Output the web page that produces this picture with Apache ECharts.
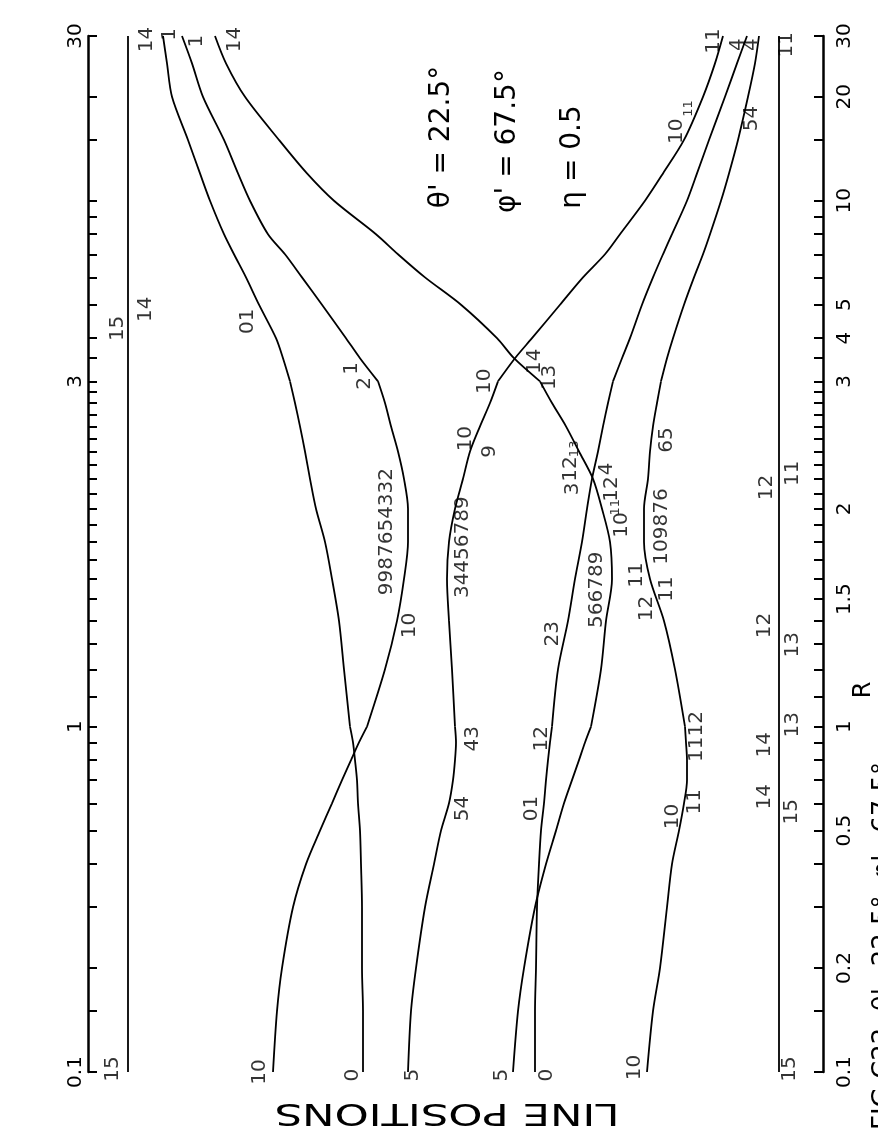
<!DOCTYPE html>
<html><head><meta charset="utf-8">
<script src="https://cdn.jsdelivr.net/npm/echarts@6/dist/echarts.min.js"></script>
<style>html,body{margin:0;padding:0;background:#fff}#c{width:878px;height:1135px}</style>
</head><body><div id="c"></div>
<script>
// R sample values (the non-uniform R axis)
const R_SAMPLES = [0.1,0.15,0.2,0.3,0.4,0.5,0.6,0.7,0.8,0.9,1,1.2,1.4,1.6,1.8,2,2.2,2.4,2.6,2.8,3,3.5,4,5,6,7,8,10,12,15,20,25,30];
// line positions (arbitrary units) of each curve at R_SAMPLES
const POS_C  = [185,189,194,205,218,232,244,254,263,271,279,297,309,316,320,320,316,310,303,297,290,272,258,234,214,197,180,162,150,136,115,104,94];
const POS_T1 = [275,275,274,274,273,272,270,269,267,265,262,256,251,244,237,228,222,217,212,207,202,195,188,171,158,146,136,122,112,100,84,79,75];
const POS_D  = [425,430,436,447,458,468,476,484,491,497,503,513,518,524,522,514,505,491,478,464,452,426,409,373,337,310,288,246,219,191,157,138,127];
const POS_E  = [320,323,328,337,346,353,361,365,367,368,367,364,361,359,361,367,375,382,392,402,410,427,444,472,495,517,532,557,575,596,615,627,635];
const POS_F  = [447,447,448,449,451,453,456,458,460,462,464,470,480,487,494,499,504,510,515,520,525,534,542,554,565,575,584,599,609,621,637,649,659];
const POS_G  = [559,565,572,579,584,591,596,599,599,598,597,587,576,562,556,556,560,562,565,569,573,579,585,596,606,615,622,633,641,650,660,667,671];
// straight lines 15/14 and 15/11
const R_ENDS = [0.1, 30];
const POS_A = [40, 40];
const POS_B = [691, 691];
// scale break points of the R axis
const R_BREAKS = [1, 3];

// axis ticks and labels
const R_TICKS = [0.1,0.15,0.2,0.3,0.4,0.5,0.6,0.7,0.8,0.9,1,1.1,1.2,1.3,1.4,1.5,1.6,1.7,1.8,1.9,2,2.1,2.2,2.3,2.4,2.5,2.6,2.7,2.8,2.9,3,3.5,4,5,6,7,8,9,10,15,20,30];
const LEFT_LABELS = [0.1, 1, 3, 30];
const RIGHT_LABELS = [0.1, 0.2, 0.5, 1, 1.5, 2, 3, 4, 5, 10, 20, 30];

// curve annotations: [text, R, position]
const LABELS = [
 ["15",0.102,25],["14",29.3,59],["15",4.27,30],["14",4.85,58],
 ["1",30.3,82],["1",29.0,109],["14",29.3,147],["01",4.48,160],
 ["1",3.27,264],["2",2.98,277],["9987654332",1.86,299],["10",1.38,322],
 ["10",3.0,397],["10",2.50,378],["9",2.40,402],["34456789",1.77,375],["43",0.923,385],["54",0.579,375],
 ["14",3.43,447],["13",3.08,462],["3",2.13,485],["12",2.27,483],["4",2.27,519],["12",2.13,524],["10",1.90,534],
 ["566789",1.546,509],["23",1.344,465],["12",0.923,454],["01",0.579,444],
 ["65",2.49,579],["109876",1.89,574],["11",1.62,549],["11",1.55,579],["12",1.456,559],
 ["1112",0.936,609],["11",0.606,607],["10",0.549,585],
 ["10",15.9,589],["54",17.3,664],["11",29.0,626],["4",28.3,650],["4",28.3,664],["11",28.3,699],
 ["11",2.24,705],["12",2.14,679],["12",1.38,677],["13",1.298,705],["13",1.006,705],["14",0.887,677],["14",0.627,677],["15",0.567,704],["15",0.102,702],
 ["10",0.1,172],["0",0.098,265],["5",0.098,325],["5",0.098,414],["0",0.098,459],["10",0.103,547]
];
const SMALL_LABELS = [["13",2.42,487],["11",2.01,528],["11",18.5,601]];

// piecewise-logarithmic R scale: one unit per decade below 1 and above 3, one unit for 1..3
const L3 = Math.log10(3);
function tr(R){ const u = Math.log10(R); if (u <= 0) return u; if (u <= L3) return u / L3; return 1 + (u - L3); }
function inv(t){ if (t <= 0) return Math.pow(10, t); if (t <= 1) return Math.pow(3, t); return 3 * Math.pow(10, t - 1); }
function fmt(v){ return String(Number(inv(v).toPrecision(3))); }

const FONT = 'DejaVu Sans';
function lineSeries(pts){ return { type:'line', data: pts, showSymbol:false, symbol:'none', smooth:0.3,
  lineStyle:{color:'#000', width:1.8}, clip:false, silent:true, z:3 }; }
// each curve is drawn in three pieces, split at the scale breaks so the kinks stay sharp
function curve(pos, rs){
  const pts = rs.map((r,i)=>[pos[i], tr(r)]);
  const out = []; let cur = [];
  rs.forEach((r,i)=>{ cur.push(pts[i]); if (R_BREAKS.indexOf(r) >= 0 && i > 0 && i < rs.length-1){ out.push(lineSeries(cur)); cur = [pts[i]]; } });
  out.push(lineSeries(cur));
  return out;
}
function labelSeries(list, size){ return { type:'scatter', symbol:'circle', symbolSize:1, itemStyle:{color:'rgba(0,0,0,0)'}, clip:false, silent:true, z:5,
  data: list.map(l=>({name:l[0], value:[l[2], tr(l[1])]})),
  label:{show:true, position:'inside', formatter:p=>p.name, rotate:90, fontSize:size, fontFamily:FONT, color:'#000'},
  labelLayout:{hideOverlap:false} }; }
function yAx(pos, labels, margin){
  return { type:'value', position:pos, min:-1, max:2,
    axisLine:{show:true, onZero:false, lineStyle:{color:'#000', width:2.5}},
    axisTick:{show:true, inside:true, length:9, customValues:R_TICKS.map(tr), lineStyle:{color:'#000', width:2}},
    axisLabel:{show:true, customValues:labels.map(tr), rotate:90, margin:margin, fontSize:20, fontFamily:FONT, color:'#000', formatter:v=>fmt(v)},
    splitLine:{show:false} };
}

const chart = echarts.init(document.getElementById('c'), null, {renderer:'canvas'});
chart.setOption({
  animation:false,
  backgroundColor:'#fff',
  textStyle:{fontFamily:FONT},
  grid:{left:88, right:55, top:36, bottom:63},
  xAxis:{type:'value', min:0, max:735, show:false},
  yAxis:[yAx('left', LEFT_LABELS, 2), yAx('right', RIGHT_LABELS, 12)],
  series:[].concat(
    curve(POS_A, R_ENDS), curve(POS_B, R_ENDS),
    curve(POS_C, R_SAMPLES), curve(POS_T1, R_SAMPLES), curve(POS_D, R_SAMPLES),
    curve(POS_E, R_SAMPLES), curve(POS_F, R_SAMPLES), curve(POS_G, R_SAMPLES),
    [labelSeries(LABELS, 20), labelSeries(SMALL_LABELS, 13)]
  ),
  graphic:[
    {type:'text', x:442, y:137, rotation:Math.PI/2, style:{text:"θ' = 22.5°", font:'28px "DejaVu Sans"', fill:'#000', align:'center', verticalAlign:'middle', textAlign:'center', textVerticalAlign:'middle'}},
    {type:'text', x:508, y:141, rotation:Math.PI/2, style:{text:"φ' = 67.5°", font:'28px "DejaVu Sans"', fill:'#000', align:'center', verticalAlign:'middle', textAlign:'center', textVerticalAlign:'middle'}},
    {type:'text', x:573, y:157, rotation:Math.PI/2, style:{text:"η = 0.5", font:'28px "DejaVu Sans"', fill:'#000', align:'center', verticalAlign:'middle', textAlign:'center', textVerticalAlign:'middle'}},
    {type:'text', x:447, y:1112, rotation:Math.PI, scaleX:1.4, style:{text:'LINE POSITIONS', font:'31px "DejaVu Sans"', fill:'#000', align:'center', verticalAlign:'middle', textAlign:'center', textVerticalAlign:'middle'}},
    {type:'text', x:864, y:690, rotation:Math.PI/2, style:{text:'R', font:'24px "DejaVu Sans"', fill:'#000', align:'center', verticalAlign:'middle', textAlign:'center', textVerticalAlign:'middle'}},
    {type:'text', x:884, y:1130, rotation:Math.PI/2, style:{text:"FIG C22  θ'=22.5°  φ'=67.5°", font:'26px "DejaVu Sans"', fill:'#000', align:'left', verticalAlign:'middle', textAlign:'left', textVerticalAlign:'middle'}}
  ]
});
</script></body></html>
